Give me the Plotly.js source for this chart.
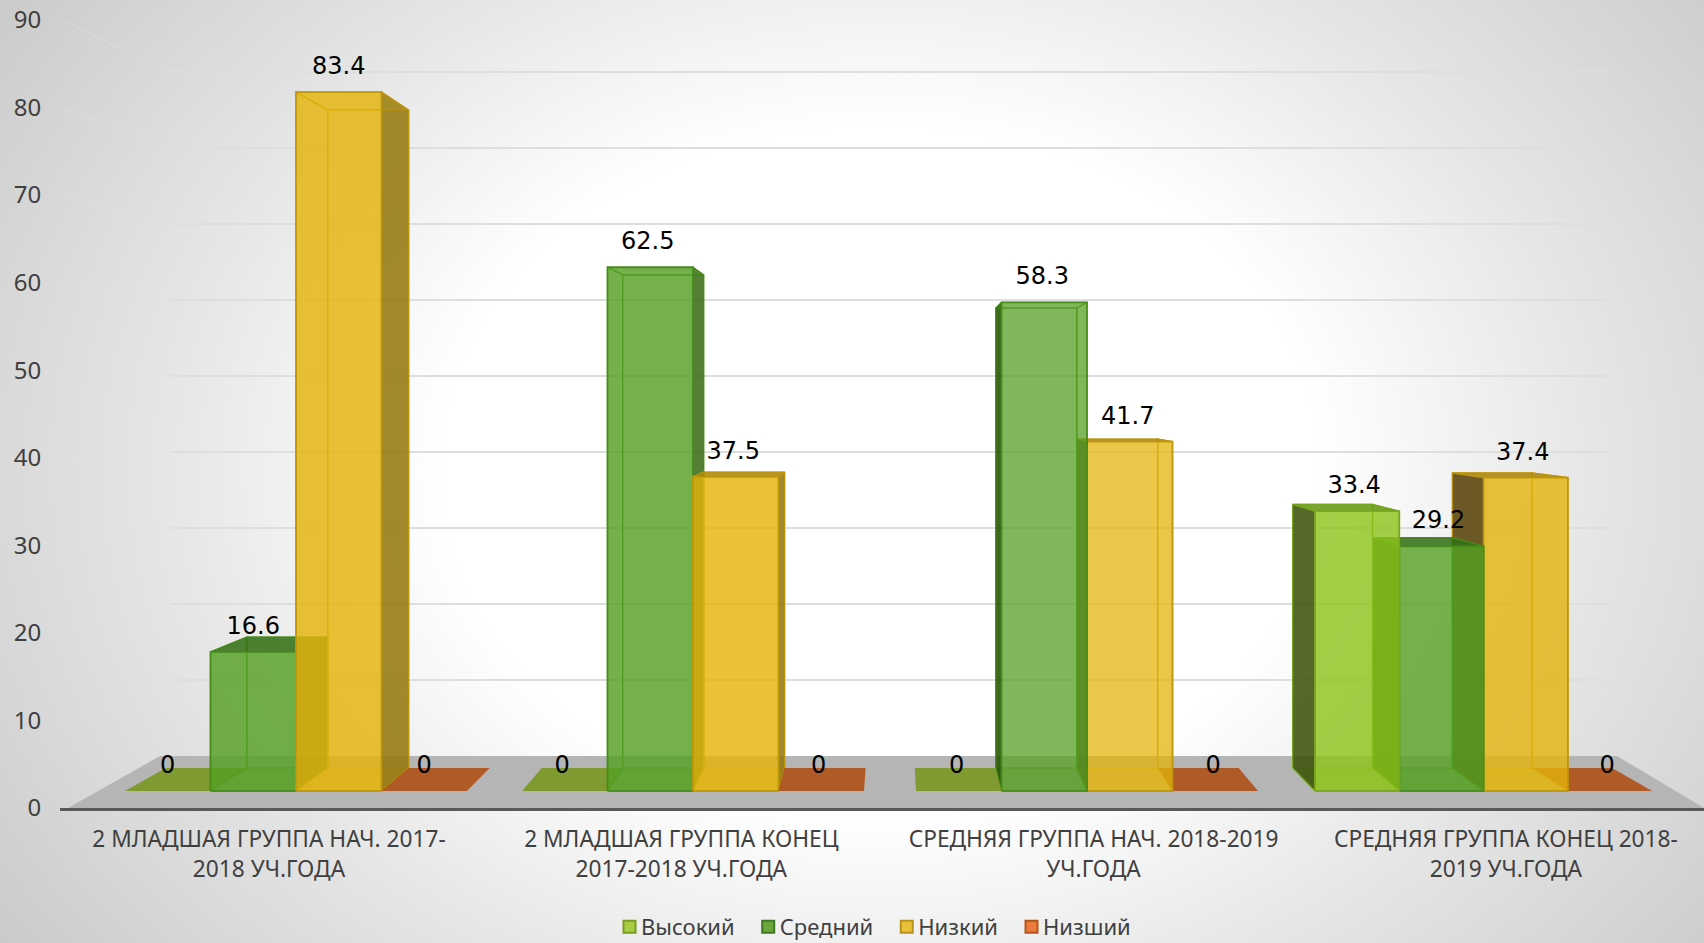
<!DOCTYPE html>
<html><head><meta charset="utf-8">
<script src="https://cdn.plot.ly/plotly-3.0.1.min.js"></script>
<style>
html,body{margin:0;padding:0;width:1704px;height:943px;overflow:hidden;
background:radial-gradient(ellipse 1150px 900px at 880px 470px,#ffffff 0%,#ffffff 38%,#e6e6e6 62%,#c4c4c4 100%);}
</style></head><body><div id="chart" style="width:1704px;height:943px"></div>
<script>
const categories = ["2 МЛАДШАЯ ГРУППА НАЧ. 2017-<br>2018 УЧ.ГОДА","2 МЛАДШАЯ ГРУППА КОНЕЦ<br>2017-2018 УЧ.ГОДА","СРЕДНЯЯ ГРУППА НАЧ. 2018-2019<br>УЧ.ГОДА","СРЕДНЯЯ ГРУППА КОНЕЦ 2018-<br>2019 УЧ.ГОДА"];
const seriesNames = ["Высокий","Средний","Низкий","Низший"];
const vysokiy = [0,0,0,33.4];
const sredniy = [16.6,62.5,58.3,29.2];
const nizkiy  = [83.4,37.5,41.7,37.4];
const nizshiy = [0,0,0,0];
const seriesValues = [vysokiy,sredniy,nizkiy,nizshiy];
const yTicks = [0,10,20,30,40,50,60,70,80,90];

/* scales: the axes map one category to 412.3 px and one value unit to 8.756 px */
const X0=269, XU=412.3, Y0=808, YU=8.756, LEFT=60;
const xd = px => (px-X0)/XU;
const yd = py => (Y0-py)/YU;
/* oblique depth projection of the floor plane */
const SX=0.947, VX=47.4;
const proj=(px,depth,v)=> depth? [xd(SX*px+VX), yd(768-7.89*v)] : [xd(px), yd(791-8.38*v)];

const styles=[
 {front:'rgba(141,195,26,.8)', line:'rgba(120,165,30,.9)', top:'rgba(100,150,20,.85)', sideL:'rgba(56,80,9,.85)',  sideR:'rgba(90,130,15,.85)', plate:'rgba(112,147,15,.8)',  sw:'#A5CE46', swl:'#7A9B1E'},
 {front:'rgba(85,160,35,.8)',  line:'rgba(70,140,25,.9)',  top:'rgba(50,110,20,.85)',  sideL:'rgba(29,80,0,.85)',   sideR:'rgba(55,106,24,.85)', plate:'rgba(70,140,20,.8)',   sw:'#6AA83E', swl:'#3F7A22'},
 {front:'rgba(227,180,11,.8)', line:'rgba(190,150,10,.9)', top:'rgba(170,130,10,.85)', sideL:'rgba(86,64,7,.85)',   sideR:'rgba(147,118,12,.85)',plate:'rgba(200,160,20,.8)',  sw:'#E8C03A', swl:'#B8911A'},
 {front:'rgba(175,67,5,.8)',   line:'rgba(175,67,5,.9)',   top:'rgba(175,67,5,.85)',   sideL:'rgba(120,50,5,.85)',  sideR:'rgba(120,50,5,.85)',  plate:'rgba(175,67,5,.8)',    sw:'#EA7B39', swl:'#B4541C'}
];
const GROUP_START=[125,522,916,1315], BAR_W=[85.5,85.5,85.5,84.3], FRONT_ALPHA=[.8,.8,.72,.78], LABEL_DX=[0,-2.5,-2,-3];
const traces=[];
const alpha=(c,a)=>c.replace(/,[^,]*\)$/,','+a+')');
function poly(pts,fill,line,lw){
  const xs=pts.map(p=>p[0]), ys=pts.map(p=>p[1]);
  xs.push(xs[0]); ys.push(ys[0]);
  traces.push({type:'scatter',mode:'lines',x:xs,y:ys,fill:'toself',fillcolor:fill,
    line:{color:line||'rgba(0,0,0,0)',width:lw||0},hoverinfo:'skip',showlegend:false});
}
/* floor */
poly([[xd(68),yd(808)],[xd(160),yd(756)],[xd(1617),yd(756)],[xd(1704),yd(808)]],'#b5b5b5');
/* gridlines: left wall and back wall */
const wallX=[],wallY=[],backX=[],backY=[];
yTicks.slice(1).forEach(t=>{
  wallX.push(xd(62),xd(171),null); wallY.push(t,yd(756-7.6*t),null);
  backX.push(xd(171),xd(1607),null); backY.push(yd(756-7.6*t),yd(756-7.6*t),null);
});
traces.push({type:'scatter',mode:'lines',x:wallX,y:wallY,line:{color:'rgba(228,228,228,.3)',width:1.5},hoverinfo:'skip',showlegend:false});
traces.push({type:'scatter',mode:'lines',x:backX,y:backY,line:{color:'#dedede',width:2},hoverinfo:'skip',showlegend:false});

function drawBar(g,s){
  const v=seriesValues[s][g], st=styles[s];
  const x0=GROUP_START[g]+BAR_W[g]*s, x1=x0+BAR_W[g];
  const fb0=proj(x0,0,0), fb1=proj(x1,0,0), bb0=proj(x0,1,0), bb1=proj(x1,1,0);
  if(v===0){ poly([fb0,fb1,bb1,bb0],st.plate); return; }
  const ft0=proj(x0,0,v), ft1=proj(x1,0,v), bt0=proj(x0,1,v), bt1=proj(x1,1,v);
  const rightVisible = (x1 < 895);
  const topVisible = bt0[1] > ft0[1];
  const faint=alpha(st.front,.1);
  poly([fb0,fb1,bb1,bb0],alpha(st.front,.35));
  poly([bb0,bb1,bt1,bt0],faint,st.line,1.2);
  if(rightVisible){
    poly([fb0,bb0,bt0,ft0],faint,st.line,1.2);
    poly([fb1,bb1,bt1,ft1],st.sideR,st.line,1.2);
  } else {
    poly([fb1,bb1,bt1,ft1],faint,st.line,1.2);
    poly([fb0,bb0,bt0,ft0],st.sideL,st.line,1.2);
  }
  poly([ft0,ft1,bt1,bt0],topVisible?st.top:faint,st.line,1.2);
  poly([fb0,fb1,ft1,ft0],alpha(st.front,FRONT_ALPHA[g]),st.line,1.8);
}
categories.forEach((c,g)=>{
  const order=[0,1,2,3];
  const mid=GROUP_START[g]+2*BAR_W[g];
  if(mid>895) order.reverse();
  order.forEach(s=>drawBar(g,s));
});
/* data labels */
const lx=[],ly=[],lt=[];
seriesValues.forEach((vals,s)=>vals.forEach((v,g)=>{
  const cx=GROUP_START[g]+BAR_W[g]*s+BAR_W[g]/2;
  lx.push(xd(cx+LABEL_DX[g])); ly.push(yd(791-8.38*v-24)); lt.push(String(v));
}));
traces.push({type:'scatter',mode:'text',x:lx,y:ly,text:lt,textposition:'middle center',
  textfont:{family:'"DejaVu Sans",sans-serif',size:24,color:'#000'},hoverinfo:'skip',showlegend:false,cliponaxis:false});
/* legend */
seriesNames.forEach((n,s)=>traces.push({type:'scatter',mode:'markers',x:[null],y:[null],name:n,
  marker:{symbol:'square',size:12,color:styles[s].sw,line:{color:styles[s].swl,width:2}}}));

const layout={
  width:1704,height:943,paper_bgcolor:'rgba(0,0,0,0)',plot_bgcolor:'rgba(0,0,0,0)',
  margin:{l:LEFT,r:0,t:0,b:135,autoexpand:false},
  font:{family:'"Noto Sans",sans-serif',color:'#404040'},
  showlegend:true,
  legend:{orientation:'h',xref:'container',yref:'container',x:609.5/1704,xanchor:'left',y:(943-927)/943,yanchor:'middle',
    font:{family:'"Noto Sans",sans-serif',size:22,color:'#404040'},bgcolor:'rgba(0,0,0,0)',itemclick:false,itemdoubleclick:false},
  xaxis:{type:'linear',range:[xd(LEFT),xd(1704)],tickmode:'array',tickvals:[0,1,2,3],ticktext:categories,
    showgrid:false,zeroline:false,showline:true,linecolor:'#595959',linewidth:3,ticks:'outside',ticklen:9,tickcolor:'rgba(0,0,0,0)',
    tickfont:{family:'"Noto Sans",sans-serif',size:22.7,color:'#404040'},fixedrange:true},
  yaxis:{type:'linear',range:[0,Y0/YU],tickmode:'array',tickvals:yTicks,ticktext:yTicks.map(String),
    showgrid:false,zeroline:false,showline:false,ticks:'outside',ticklen:13,tickcolor:'rgba(0,0,0,0)',
    tickfont:{family:'"Noto Sans",sans-serif',size:24,color:'#404040'},fixedrange:true}
};
Plotly.newPlot('chart',traces,layout,{displayModeBar:false,responsive:false}).then(()=>{
  document.querySelectorAll('.legendtext').forEach(t=>t.setAttribute('x',Number(t.getAttribute('x'))-8.5));
});
</script></body></html>
